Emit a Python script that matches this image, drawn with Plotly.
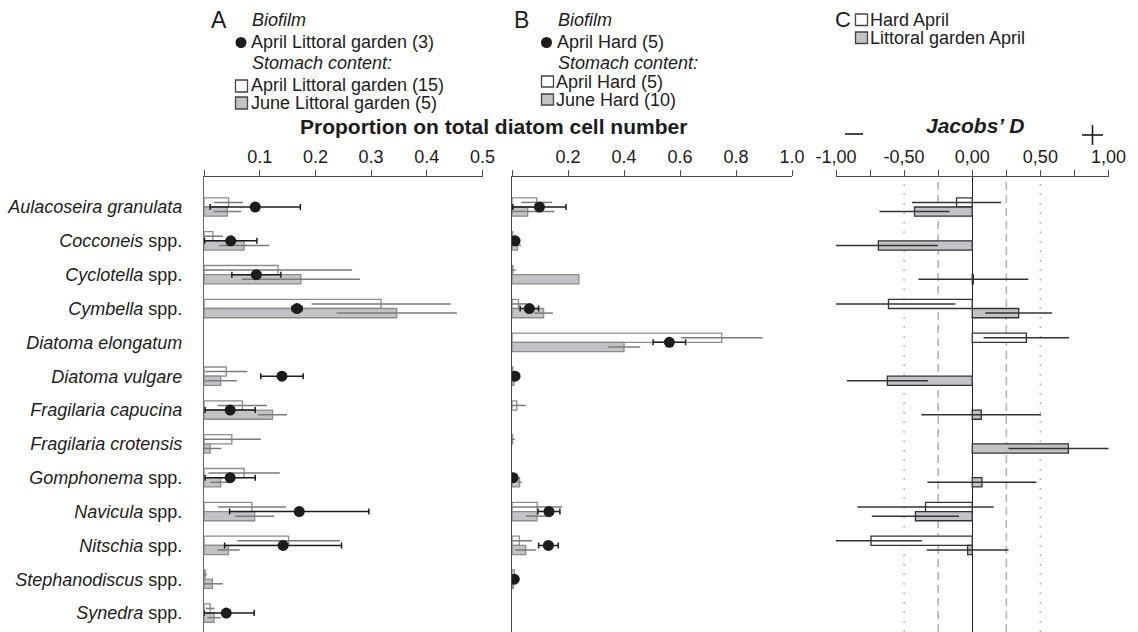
import plotly.graph_objects as go

# ---------------- data ----------------
species = [
    "Aulacoseira granulata", "Cocconeis spp.", "Cyclotella spp.", "Cymbella spp.",
    "Diatoma elongatum", "Diatoma vulgare", "Fragilaria capucina",
    "Fragilaria crotensis", "Gomphonema spp.", "Navicula spp.", "Nitschia spp.",
    "Stephanodiscus spp.", "Synedra spp.",
]
species_labels = [
    "<i>Aulacoseira granulata</i>", "<i>Cocconeis</i> spp.", "<i>Cyclotella</i> spp.",
    "<i>Cymbella</i> spp.", "<i>Diatoma elongatum</i>", "<i>Diatoma vulgare</i>",
    "<i>Fragilaria capucina</i>", "<i>Fragilaria crotensis</i>", "<i>Gomphonema</i> spp.",
    "<i>Navicula</i> spp.", "<i>Nitschia</i> spp.", "<i>Stephanodiscus</i> spp.",
    "<i>Synedra</i> spp.",
]

# A - Littoral garden
lg_biofilm_apr = [0.092, 0.048, 0.094, 0.167, None, 0.140, 0.047, None, 0.047, 0.171, 0.142, None, 0.040]
lg_biofilm_apr_sd = [0.081, 0.047, 0.044, 0.009, None, 0.038, 0.045, None, 0.045, 0.125, 0.105, None, 0.050]
lg_stomach_apr = [0.044, 0.016, 0.133, 0.318, None, 0.040, 0.069, 0.050, 0.072, 0.086, 0.152, 0.002, 0.011]
lg_stomach_apr_sd = [0.026, 0.018, 0.133, 0.125, None, 0.038, 0.044, 0.052, 0.064, 0.061, 0.092, 0.003, 0.008]
lg_stomach_jun = [0.042, 0.072, 0.174, 0.346, None, 0.030, 0.123, 0.011, 0.030, 0.091, 0.044, 0.015, 0.018]
lg_stomach_jun_sd = [0.025, 0.045, 0.106, 0.108, None, 0.029, 0.026, 0.020, 0.019, 0.035, 0.020, 0.019, 0.012]

# B - Hard substrate
hard_biofilm_apr = [0.098, 0.011, None, 0.062, 0.562, 0.011, None, None, 0.004, 0.132, 0.130, 0.008, None]
hard_biofilm_apr_sd = [0.095, 0.004, None, 0.033, 0.058, 0.004, None, None, 0.003, 0.039, 0.035, 0.004, None]
hard_stomach_apr = [0.088, 0.002, 0.003, 0.023, 0.749, 0.003, 0.017, 0.002, None, 0.090, 0.026, 0.008, None]
hard_stomach_apr_sd = [0.055, 0.002, 0.010, 0.030, 0.146, 0.002, 0.032, 0.008, None, 0.089, 0.045, 0.006, None]
hard_stomach_jun = [0.056, 0.019, 0.239, 0.113, 0.400, 0.007, None, None, 0.027, 0.089, 0.049, 0.005, None]
hard_stomach_jun_sd = [0.095, 0.013, 0.0, 0.033, 0.058, 0.005, None, None, 0.007, 0.039, 0.036, 0.003, None]

# C - Jacobs' selectivity index
jacobs_hard_apr = [-0.115, None, None, -0.615, 0.397, None, None, None, None, -0.343, -0.743, None, None]
jacobs_hard_apr_sd = [0.327, None, None, 0.49, 0.314, None, None, None, None, 0.50, 0.373, None, None]
jacobs_lg_apr = [-0.424, -0.689, 0.008, 0.341, None, -0.623, 0.066, 0.706, 0.071, -0.417, -0.034, None, None]
jacobs_lg_apr_sd = [0.257, 0.437, 0.403, 0.245, None, 0.297, 0.44, 0.44, 0.40, 0.32, 0.30, None, None]
jacobs_guides_dash = [-0.25, 0.25]
jacobs_guides_dot = [-0.5, 0.5]

# axis ticks
ticks_a = [0, 0.1, 0.2, 0.3, 0.4, 0.5]
ticktext_a = ["", "0.1", "0.2", "0.3", "0.4", "0.5"]
ticks_b = [0, 0.2, 0.4, 0.6, 0.8, 1.0]
ticktext_b = ["", "0.2", "0.4", "0.6", "0.8", "1.0"]
ticks_c = [-1, -0.75, -0.5, -0.25, 0, 0.25, 0.5, 0.75, 1]
ticktext_c = ["-1,00", "", "-0,50", "", "0,00", "", "0,50", "", "1,00"]

# ---------------- styling ----------------
W, H = 1138, 632
FONT = "Liberation Sans, Arial, sans-serif"
INK = "#1c1c1c"
GREY_FILL = "#c3c3c7"
BAR_EDGE = "#8c8c8c"
ERR_GREY = "#7a7a7a"


def px(x):
    return x / W


def py(y):
    return 1 - y / H


def lower_err(vals, sds):
    # stop the lower whisker at zero
    return [None if v is None else min(s, v) for v, s in zip(vals, sds)]


fig = go.Figure()


def add_bars(x, sd, fill, edge, err_col, xa, ya):
    fig.add_trace(go.Bar(
        x=x, y=species, orientation="h", xaxis=xa, yaxis=ya,
        marker=dict(color=fill, line=dict(color=edge, width=1.3)),
        error_x=dict(type="data", array=sd, visible=True, color=err_col,
                     thickness=1.5, width=0),
        showlegend=False,
    ))


def add_dots(x, sd, xa, ya):
    fig.add_trace(go.Scatter(
        x=x, y=species, mode="markers", xaxis=xa, yaxis=ya,
        marker=dict(color=INK, size=11),
        error_x=dict(type="data", array=sd, arrayminus=lower_err(x, sd),
                     visible=True, color=INK, thickness=1.5, width=3),
        showlegend=False,
    ))


# panel A
add_bars(lg_stomach_apr, lg_stomach_apr_sd, "white", BAR_EDGE, ERR_GREY, "x", "y")
add_bars(lg_stomach_jun, lg_stomach_jun_sd, GREY_FILL, BAR_EDGE, ERR_GREY, "x", "y")
add_dots(lg_biofilm_apr, lg_biofilm_apr_sd, "x", "y")
# panel B
add_bars(hard_stomach_apr, hard_stomach_apr_sd, "white", BAR_EDGE, ERR_GREY, "x2", "y2")
add_bars(hard_stomach_jun, hard_stomach_jun_sd, GREY_FILL, BAR_EDGE, ERR_GREY, "x2", "y2")
add_dots(hard_biofilm_apr, hard_biofilm_apr_sd, "x2", "y2")
# panel C
add_bars(jacobs_hard_apr, jacobs_hard_apr_sd, "white", "#333333", "#333333", "x3", "y3")
add_bars(jacobs_lg_apr, jacobs_lg_apr_sd, GREY_FILL, "#333333", "#333333", "x3", "y3")

top = 177
y_dom = [0, py(top)]
y_range = [12.56, -0.887]

xbase = dict(side="top", showline=True, linecolor="#4a4a4a", linewidth=1.2,
             ticks="outside", ticklen=6, tickcolor="#4a4a4a", tickwidth=1.1,
             showgrid=False, zeroline=False, tickmode="array",
             tickfont=dict(size=18, color=INK, family=FONT), ticklabelstandoff=0)

fig.update_layout(
    width=W, height=H,
    margin=dict(l=0, r=0, t=0, b=0, autoexpand=False),
    paper_bgcolor="white", plot_bgcolor="white",
    font=dict(family=FONT, size=18, color=INK),
    showlegend=False,
    barmode="group", bargap=0.456, bargroupgap=0,
    xaxis=dict(domain=[px(204), px(482.5)], range=[0, 0.5], anchor="y",
               tickvals=ticks_a, ticktext=ticktext_a, **xbase),
    xaxis2=dict(domain=[px(512), px(792)], range=[0, 1.0], anchor="y2",
                tickvals=ticks_b, ticktext=ticktext_b, **xbase),
    xaxis3=dict(domain=[px(836), px(1108.5)], range=[-1, 1], anchor="y3",
                tickvals=ticks_c, ticktext=ticktext_c,
                **{k: v for k, v in xbase.items() if k != "zeroline"},
                zeroline=True, zerolinecolor="#222222", zerolinewidth=1.3),
    yaxis=dict(domain=y_dom, range=y_range, anchor="x", type="category",
               categoryorder="array", categoryarray=species,
               tickmode="array", tickvals=species, ticktext=species_labels,
               showline=True, linecolor="#6a6a6a", linewidth=1.2, ticks="",
               showgrid=False, zeroline=False, ticklabelstandoff=17,
               automargin=False,
               tickfont=dict(size=18, color=INK, family=FONT)),
    yaxis2=dict(domain=y_dom, range=y_range, anchor="x2", matches="y",
                showline=True, linecolor="#4a4a4a", linewidth=1.2, ticks="",
                showticklabels=False, showgrid=False, zeroline=False),
    yaxis3=dict(domain=y_dom, range=y_range, anchor="x3", matches="y",
                showline=False, ticks="", showticklabels=False,
                showgrid=False, zeroline=False),
)

shapes = []
for g in jacobs_guides_dash:
    shapes.append(dict(type="line", xref="x3", yref="paper", x0=g, x1=g,
                       y0=0, y1=py(top + 2), layer="below",
                       line=dict(color="#b5b5b5", width=1.6, dash="8px,5px")))
for g in jacobs_guides_dot:
    shapes.append(dict(type="line", xref="x3", yref="paper", x0=g, x1=g,
                       y0=0, y1=py(top + 2), layer="below",
                       line=dict(color="#a8a8a8", width=1.6, dash="1.5px,8px")))

annotations = []


def text(x, y, s, size=18, anchor="left", bold=False, italic=False):
    if bold:
        s = f"<b>{s}</b>"
    if italic:
        s = f"<i>{s}</i>"
    annotations.append(dict(x=px(x), y=py(y), xref="paper", yref="paper",
                            text=s, showarrow=False, xanchor=anchor,
                            yanchor="middle", borderpad=0,
                            font=dict(size=size, color=INK, family=FONT)))


def circle(cx, cy, r=5.5):
    shapes.append(dict(type="circle", xref="paper", yref="paper",
                       x0=px(cx - r), x1=px(cx + r), y0=py(cy + r), y1=py(cy - r),
                       fillcolor=INK, line=dict(color=INK, width=0)))


def box(x0, y0, x1, y1, fill, edge):
    shapes.append(dict(type="rect", xref="paper", yref="paper",
                       x0=px(x0), x1=px(x1), y0=py(y1), y1=py(y0),
                       fillcolor=fill, line=dict(color=edge, width=1.3)))


def seg(x0, y0, x1, y1, w=1.6):
    shapes.append(dict(type="line", xref="paper", yref="paper",
                       x0=px(x0), x1=px(x1), y0=py(y0), y1=py(y1),
                       line=dict(color=INK, width=w)))


# legend A
text(210, 20, "A", size=23)
text(251, 20, "Biofilm", italic=True)
circle(241, 42.5)
text(250, 42, "April Littoral garden (3)")
text(251, 63, "Stomach content:", italic=True)
box(235.5, 80, 247.5, 92, "white", "#444444")
text(250, 85, "April Littoral garden (15)")
box(235.5, 97, 247.5, 109, GREY_FILL, "#444444")
text(250, 103, "June Littoral garden (5)")

# legend B
text(513, 20, "B", size=23)
text(557, 20, "Biofilm", italic=True)
circle(546.5, 42.5)
text(556, 42, "April Hard (5)")
text(557, 63, "Stomach content:", italic=True)
box(541.5, 76, 553.5, 87, "white", "#444444")
text(555, 82, "April Hard (5)")
box(541.5, 94, 553.5, 105, GREY_FILL, "#444444")
text(555, 100, "June Hard (10)")

# legend C
text(834, 20, "C", size=22)
box(855.5, 14, 867.5, 25.5, "white", "#444444")
text(869, 20, "Hard April")
box(855.5, 32, 867.5, 43.5, GREY_FILL, "#444444")
text(869, 38, "Littoral garden April")

# axis titles
text(493, 127, "Proportion on total diatom cell number", size=21, anchor="center", bold=True)
text(975, 126, "<i>Jacobs’ D</i>", size=21, anchor="center", bold=True)
# minus / plus markers on the Jacobs' D scale
seg(845, 134, 863, 134)
seg(1082, 135, 1103, 135)
seg(1092.5, 125, 1092.5, 145)

fig.update_layout(shapes=shapes, annotations=annotations)
fig.write_html("out.html")
